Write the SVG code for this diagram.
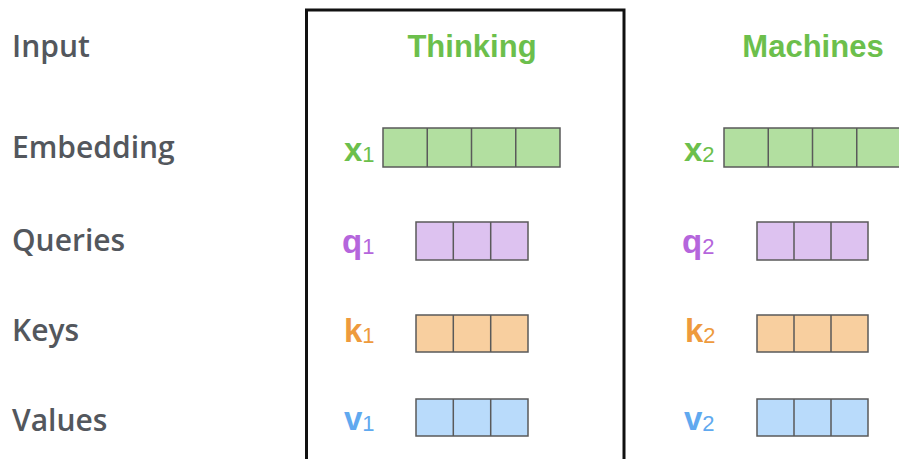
<svg xmlns="http://www.w3.org/2000/svg" width="899" height="459" viewBox="0 0 899 459">
<style>
.row{font-family:"Open Sans","Liberation Sans",sans-serif;font-weight:600;font-size:30px;fill:#53575d}
.word{font-family:"Liberation Sans",Arial,sans-serif;font-weight:bold;font-size:31px;fill:#6cbf4c;text-anchor:middle}
.v{font-family:"Liberation Sans",Arial,sans-serif;font-weight:bold;font-size:33px}
.sub{font-weight:normal;font-size:22px}
.cell{stroke:#5a5a5a;stroke-width:1.5}
.g{fill:#6cbf4c}.gf{fill:#b2dfa0}
.p{fill:#b566dc}.pf{fill:#ddc2f0}
.o{fill:#ee9a3d}.of{fill:#f8cf9f}
.b{fill:#60a9ef}.bf{fill:#b9dbfb}
</style>
<rect width="899" height="459" fill="#ffffff"/>
<g id="labels">
<text class="row" x="12" y="57">Input</text>
<text class="row" x="12" y="158">Embedding</text>
<text class="row" x="12" y="251">Queries</text>
<text class="row" x="12" y="341">Keys</text>
<text class="row" x="12" y="431">Values</text>
</g>
<g id="thinking-frame">
<rect x="306.5" y="10" width="317.5" height="460" fill="none" stroke="#111" stroke-width="3"/>
</g>
<g id="word-thinking"><text class="word" x="472" y="57">Thinking</text></g>
<g id="word-machines"><text class="word" x="813" y="57">Machines</text></g>
<g id="x1">
<text class="v g" x="344" y="161">x<tspan class="sub" dy="1">1</tspan></text>
<rect class="cell gf" x="383" y="128" width="177" height="39"/>
<path d="M427.25 128V167M471.5 128V167M515.75 128V167" stroke="#5a5a5a" stroke-width="1.5"/>
</g>
<g id="x2">
<text class="v g" x="684" y="161">x<tspan class="sub" dy="1">2</tspan></text>
<rect class="cell gf" x="724" y="128" width="177" height="39"/>
<path d="M768.25 128V167M812.5 128V167M856.75 128V167" stroke="#5a5a5a" stroke-width="1.5"/>
</g>
<g id="q1">
<text class="v p" x="342" y="253">q<tspan class="sub" dy="1">1</tspan></text>
<rect class="cell pf" x="416" y="222" width="112" height="38"/>
<path d="M453.3 222V260M490.7 222V260" stroke="#5a5a5a" stroke-width="1.5"/>
</g>
<g id="q2">
<text class="v p" x="682" y="253">q<tspan class="sub" dy="1">2</tspan></text>
<rect class="cell pf" x="757" y="222" width="111" height="38"/>
<path d="M794 222V260M831 222V260" stroke="#5a5a5a" stroke-width="1.5"/>
</g>
<g id="k1">
<text class="v o" x="344" y="342">k<tspan class="sub" dy="1">1</tspan></text>
<rect class="cell of" x="416" y="315" width="112" height="37"/>
<path d="M453.3 315V352M490.7 315V352" stroke="#5a5a5a" stroke-width="1.5"/>
</g>
<g id="k2">
<text class="v o" x="685" y="342">k<tspan class="sub" dy="1">2</tspan></text>
<rect class="cell of" x="757" y="315" width="111" height="37"/>
<path d="M794 315V352M831 315V352" stroke="#5a5a5a" stroke-width="1.5"/>
</g>
<g id="v1">
<text class="v b" x="344" y="430">v<tspan class="sub" dy="1">1</tspan></text>
<rect class="cell bf" x="416" y="399" width="112" height="37"/>
<path d="M453.3 399V436M490.7 399V436" stroke="#5a5a5a" stroke-width="1.5"/>
</g>
<g id="v2">
<text class="v b" x="684" y="430">v<tspan class="sub" dy="1">2</tspan></text>
<rect class="cell bf" x="757" y="399" width="111" height="37"/>
<path d="M794 399V436M831 399V436" stroke="#5a5a5a" stroke-width="1.5"/>
</g>
<g id="connectors"></g>
</svg>
